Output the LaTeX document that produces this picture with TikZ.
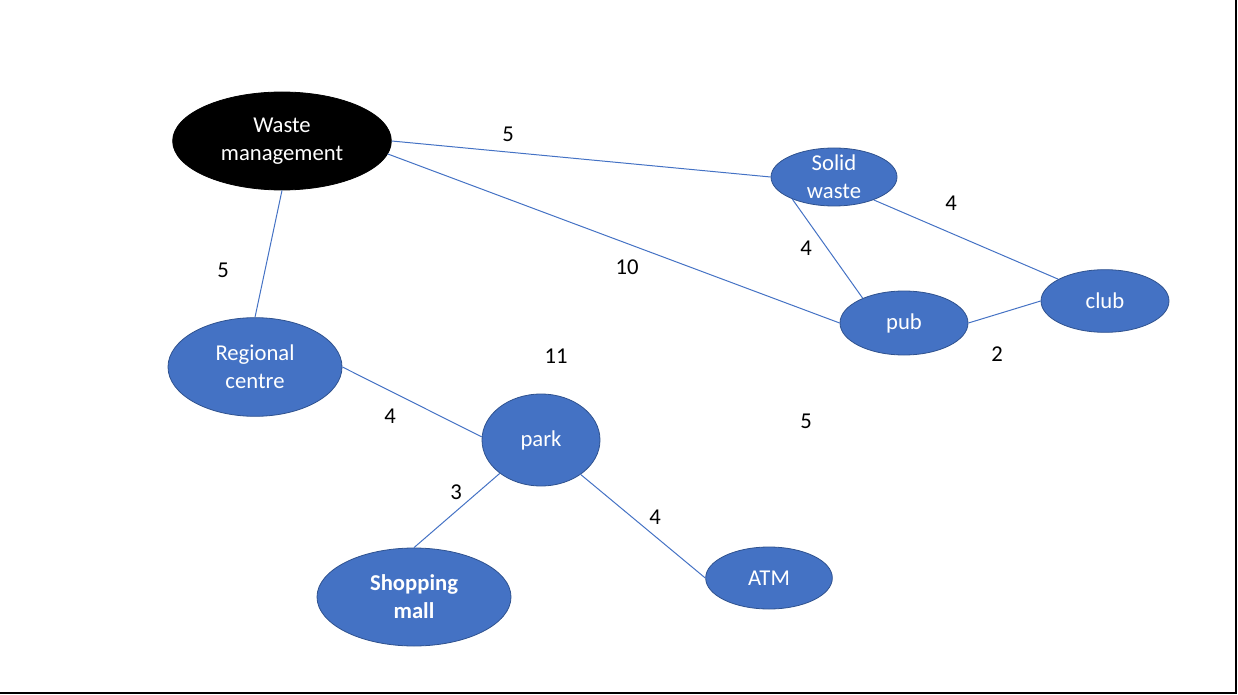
\documentclass[tikz,border=0pt]{standalone}
\usepackage{fontspec}
\setmainfont{Carlito}
\usetikzlibrary{shapes.geometric}
\definecolor{nodeblue}{HTML}{4472C4}
\definecolor{rimblue}{HTML}{2F528F}
\tikzset{
	place/.style={ellipse, fill=nodeblue, draw=rimblue, line width=0.6pt,
		text=white, align=center, inner sep=0pt, font=\fontsize{17}{21}\selectfont},
	road/.style={draw=nodeblue, line width=0.75pt},
	dist/.style={font=\fontsize{17}{21}\selectfont}
}

\begin{document}
\begin{tikzpicture}[x=0.75pt, y=-0.75pt]
				\useasboundingbox (0,0) rectangle (1238,695);
				\node[place, fill=black, draw=black,
				minimum width = 164pt,
				minimum height = 73.5pt] (wm) at(282,141){Waste\\management};
				\node[place, inner ysep=-3pt,
				minimum width = 94.5pt,
				minimum height = 43.5pt] (sw) at(834,177){Solid\\waste};
				\node[place,
				minimum width = 96pt,
				minimum height = 47pt] (club) at(1105,301){club};
				\node[place,
				minimum width = 96pt,
				minimum height = 48pt] (pub) at(904,323){pub};
				\node[place,
				minimum width = 130.5pt,
				minimum height = 74pt] (rc) at(255,367){Regional\\centre};
				\node[place,
				minimum width = 88.5pt,
				minimum height = 69pt] (park) at(541,440){park};
				\node[place, font=\fontsize{17}{21}\selectfont\bfseries,
				minimum width = 145.5pt,
				minimum height = 73.5pt] (sm) at(414,597){Shopping\\mall};
				\node[place,
				minimum width = 95pt,
				minimum height = 46.5pt] (atm) at(769,578){ATM};
				\draw[road] (wm.east) -- (sw.west);
				\draw[road] (wm.-7) -- (pub.west);
				\draw[road] (wm.south) -- (rc.north);
				\draw[road] (sw.-30) -- (club.155);
				\draw[road] (sw.208) -- (pub.149);
				\draw[road] (pub.east) -- (club.west);
				\draw[road] (rc.east) -- (park.177);
				\draw[road] (park.219) -- (sm.north);
				\draw[road] (park.-41) -- (atm.west);
				\node[dist] (d1) at(508,134){5};
				\node[dist] (d2) at(951,203){4};
				\node[dist] (d3) at(806,248){4};
				\node[dist] (d4) at(627,267){10};
				\node[dist] (d5) at(223,270){5};
				\node[dist] (d6) at(556,356){11};
				\node[dist] (d7) at(997,354){2};
				\node[dist] (d8) at(390,416){4};
				\node[dist] (d9) at(806,421){5};
				\node[dist] (d10) at(456,492){3};
				\node[dist] (d11) at(655,517){4};
				\draw[line width=1.5pt] (0,693) -- (1236,693) -- (1236,0);
			\end{tikzpicture}
\end{document}
